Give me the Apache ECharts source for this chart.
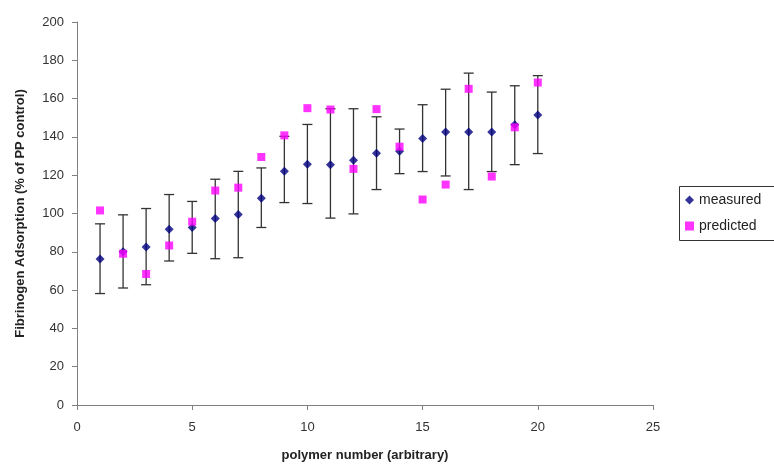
<!DOCTYPE html>
<html><head><meta charset="utf-8">
<script src="https://cdn.jsdelivr.net/npm/echarts@6/dist/echarts.min.js"></script>
<style>html,body{margin:0;padding:0;background:#fff}#c{width:774px;height:467px}</style>
</head><body><div id="c"></div>
<script>
const polymers = [1,2,3,4,5,6,7,8,9,10,11,12,13,14,15,16,17,18,19,20];
const measured = [76.2,80.0,82.5,91.8,92.7,97.4,99.5,108.0,122.0,125.7,125.5,127.8,131.4,132.5,139.1,142.5,142.5,142.5,146.4,151.4];
const errHigh = [94.6,99.3,102.6,109.9,106.3,117.9,122.0,123.8,140.3,146.5,154.7,154.7,150.5,144.1,156.8,164.9,173.3,163.4,166.7,172.0];
const errLow = [58.2,61.1,62.8,75.2,79.2,76.4,76.9,92.7,105.7,105.2,97.6,99.8,112.5,120.8,121.9,119.6,112.5,121.9,125.5,131.3];
const predicted = [101.6,79.0,68.4,83.3,95.7,112.0,113.5,129.5,140.8,155.0,154.3,123.3,154.5,134.9,107.3,115.1,165.1,119.3,145.0,168.4];

const chart = echarts.init(document.getElementById('c'));
const font = 'Liberation Sans, Arial, sans-serif';
chart.setOption({
  animation: false,
  backgroundColor: '#fff',
  textStyle: {fontFamily: font},
  grid: {left: 77, right: 121, top: 22, bottom: 61},
  graphic: [{
    type: 'rect', left: 677, top: 184, z: 0,
    shape: {width: 130, height: 54},
    style: {fill: 'none', stroke: '#333', lineWidth: 1}
  }],
  legend: {
    data: [{name: 'measured', icon: 'diamond'}, {name: 'predicted', icon: 'rect'}],
    orient: 'vertical', left: 678, top: 186,
    itemWidth: 9, itemHeight: 9, itemGap: 12,
    padding: [7, 4, 7, 7],
    textStyle: {fontSize: 14, color: '#222', fontFamily: font}
  },
  xAxis: {
    type: 'value', min: 0, max: 25, interval: 5,
    name: 'polymer number (arbitrary)', nameLocation: 'middle', nameGap: 44,
    nameTextStyle: {fontWeight: 'bold', fontSize: 13, color: '#222'},
    axisLine: {lineStyle: {color: '#808080', width: 1}},
    axisTick: {length: 5, lineStyle: {color: '#808080'}},
    axisLabel: {fontSize: 13, color: '#333', margin: 16},
    splitLine: {show: false}
  },
  yAxis: {
    type: 'value', min: 0, max: 200, interval: 20,
    name: 'Fibrinogen Adsorption (% of PP control)', nameLocation: 'middle', nameGap: 50,
    nameTextStyle: {fontWeight: 'bold', fontSize: 13, color: '#222'},
    axisLine: {show: true, lineStyle: {color: '#808080', width: 1}},
    axisTick: {show: true, length: 5, lineStyle: {color: '#808080'}},
    axisLabel: {fontSize: 13, color: '#333', margin: 13},
    splitLine: {show: false}
  },
  series: [
    {
      type: 'custom', name: 'error', z: 1,
      data: polymers.map((x, i) => [x, errLow[i], errHigh[i]]),
      renderItem: function (params, api) {
        const lo = api.coord([api.value(0), api.value(1)]);
        const hi = api.coord([api.value(0), api.value(2)]);
        const hw = 5;
        const st = {stroke: '#333', lineWidth: 1.3};
        return {type: 'group', children: [
          {type: 'line', shape: {x1: lo[0], y1: lo[1], x2: hi[0], y2: hi[1]}, style: st},
          {type: 'line', shape: {x1: lo[0]-hw, y1: lo[1], x2: lo[0]+hw, y2: lo[1]}, style: st},
          {type: 'line', shape: {x1: hi[0]-hw, y1: hi[1], x2: hi[0]+hw, y2: hi[1]}, style: st}
        ]};
      }
    },
    {
      type: 'scatter', name: 'measured', z: 3, symbol: 'diamond', symbolSize: 9,
      itemStyle: {color: '#000080'},
      data: polymers.map((x, i) => [x, measured[i]])
    },
    {
      type: 'scatter', name: 'predicted', z: 4, symbol: 'rect', symbolSize: 8,
      itemStyle: {color: '#FF00FF'},
      data: polymers.map((x, i) => [x, predicted[i]])
    }
  ]
});
</script></body></html>
